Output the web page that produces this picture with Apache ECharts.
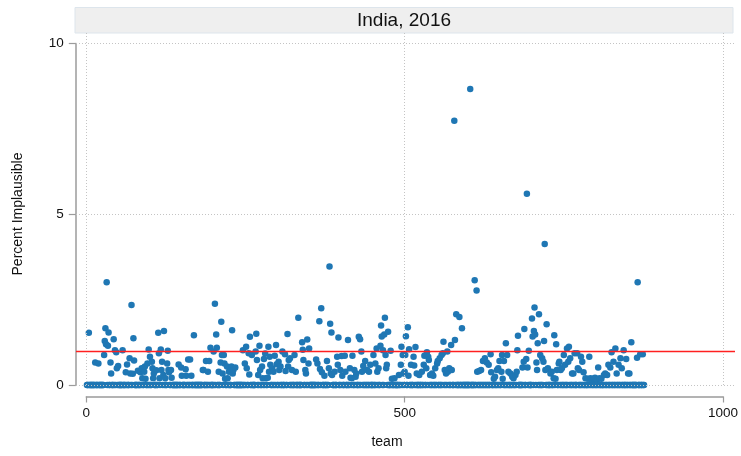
<!DOCTYPE html>
<html>
<head>
<meta charset="utf-8">
<script src="https://cdn.jsdelivr.net/npm/echarts@6/dist/echarts.min.js"></script>
<style>
  html, body { margin: 0; padding: 0; background: #ffffff; }
  #chart { width: 741px; height: 456px; }
</style>
</head>
<body>
<div id="chart"></div>
<script>
// Share of implausible records per team, India 2016 (team = position in list)
const pctImplausible = [
  // teams 1-20
  0,0,0,1.53,0, 0,0,0,0,0, 0,0,0,0.66,0, 0,0,0,0.63,0,
  // 21-40
  0,0,0,0,0, 0,0,0.88,1.29,1.66, 1.19,3.01,0,1.15,1.54, 0,0,0.66,0.34,0,
  // 41-60
  0,0,1.34,0,1.02, 0,0.96,0.49,0,0.56, 0,0,0,0,0, 0,1.02,0,0,0,
  // 61-80
  0,0.37,0,0.60,0, 0,0,0.78,0.34,0, 2.34,0,0.33,1.37,0.72, 0,0,0,0,0,
  // 81-100
  0.42,0,0,0,0.37, 0,0.49,0.20,0,0, 0.39,0.54,0.18,0,0, 0.63,0,1.04,0,0.83,
  // 101-120
  0,0,0.68,0.49,0.20, 0.34,0,0,0,0.43, 0,0,1.53,0.93,0.20, 0,1.04,0.44,0.68,0,
  // 121-140
  0.29,1.58,0,0.20,0, 0,0.63,1.00,0.44,0.37, 0,0,0.44,0.21,0, 0,0,0,0,0,
  // 141-160
  0,0,0,0,0.60, 0,0,0,0.51,0.27, 0,0,0,0,0, 0.46,0.27,0,0,0.75,
  // 161-180
  0,0,0.75,0,0.27, 0,0,0,1.46,0, 0,0,0,0,0, 0,0,0,0,0,
  // 181-200
  0,0,0.44,0.44,0, 0,0,0.70,0,0, 0.39,0,0.70,0,1.09, 0,0,0,0,0.98,
  // 201-220
  0,2.38,0,1.48,1.09, 0,0,0.39,0,0, 0.66,1.85,0.88,0.34,0, 0.88,0.63,0.18,0,0,
  // 221-240
  0.54,0.20,0,0.39,0, 0,0,0.54,1.60,0.34, 0.44,0,0,0.51,0, 0,0,0,0,0,
  // 241-260
  0,0,0,0,0, 1.02,0,0,0.63,0, 1.12,0.49,0,0,0.93, 0.31,1.41,0,0,0.88,
  // 261-280
  0,0,0,0,0, 0.98,1.50,0.73,0,0.29, 0,1.15,0.44,0,0, 0.54,0.20,0,0.76,0,
  // 281-300
  0.92,0.20,0,0,0.21, 1.12,0.39,0.83,0.59,0, 0,0.49,0,0.39,0, 0.86,0,1.17,0.61,0,
  // 301-320
  0,0.68,0.44,0,0.54, 0,0,0.98,0,0, 0,0.90,0.41,0,0, 1.49,0.54,0.73,0,0.78,
  // 321-340
  0,0,0.44,0,0, 0,0.88,0,0.39,0, 0,0,1.97,0,0, 0,0,0,1.25,1.03,
  // 341-360
  0.73,0,0,0.44,0.34, 0,1.33,0,0.63,1.07, 0,0,0,0,0, 0,0,0,0,0,
  // 361-380
  0.75,0,0.63,0,0, 1.87,0.47,0,2.25,0.37, 0,0,0,0.27,0, 0,0,0.70,0,0,
  // 381-400
  0.49,3.47,1.79,0.34,1.54, 0.29,0,0,0,0.39, 0,0,0,0.83,0.59, 1.39,0,0,0.44,0,
  // 401-420
  0.85,0.27,0,0,0, 0.86,0.39,0,0,0, 1.32,0,0,0.49,0.21, 0,0.20,0.86,0,0,
  // 421-440
  0.44,0,0.24,0.34,0, 0,0,1.41,0,1.34, 0,0.98,0.39,0,0.56, 0,0,0.70,0,0,
  // 441-460
  0.44,0,0,0.39,0, 0.59,0,0,0,0, 0.88,0,0,0.63,0, 1.07,0.39,0,0.49,0,
  // 461-480
  0,1.15,1.74,1.42,0, 1.02,0,1.48,1.97,0.88, 0.49,0.59,0,1.56,0, 0,0,1.00,0,0.18,
  // 481-500
  0,0,0,0.20,0, 0,0,0,0,0, 0.29,0,0,0.59,1.12, 0,0.88,0.34,0,0.39,
  // 501-520
  0.88,1.43,0,0,1.69, 0.27,1.05,0,0,0.59, 0,0,0,0.83,0.57, 0,1.11,0,0.34,0,
  // 521-540
  0,0,0.29,0,0, 0,0.39,0,0,0.59, 0.86,0,0,0.49,0.96, 0,0.83,0.73,0,0.29,
  // 541-560
  0,0,0.34,0,0.27, 0,0,0.49,0,0, 0.63,0.70,0,0,0.78, 0,0,0.88,0,0.93,
  // 561-580
  1.27,0,0.44,0,0.34, 0,0.98,0.39,0,0.49, 0,0,1.17,0.44,0, 0,0,7.74,1.32,0,
  // 581-600
  2.07,0,0,0,0, 1.99,0,0,0,1.66, 0,0,0,0,0, 0,0,0,0,0,
  // 601-620
  0,0,8.67,0,0, 0,0,0,0,3.07, 0,0,2.77,0.39,0, 0,0.41,0,0,0.44,
  // 621-640
  0,0,0.70,0,0, 0.78,0,0,0.66,0, 0,0.59,0,0,0.90, 0.37,0,0,0,0.18,
  // 641-660
  0,0.24,0,0,0.44, 0,0.49,0,0.70,0, 0,0.39,0.88,0.18,0, 0.70,0,0,1.22,0,
  // 661-680
  0.88,0,0.39,0,0, 0.34,0,0,0.24,0, 0.20,0,0,0.29,0, 0.39,1.02,1.44,0,0,
  // 681-700
  0,0,0,0,0.51, 0,0.68,1.64,0,0, 0.76,5.60,0.51,0,1.00, 0,0,0,0,1.95,
  // 701-720
  1.42,0,1.58,2.27,1.48, 0,0.66,0.44,1.22,0, 2.07,0,0.88,0,0, 0.78,0,0.68,1.29,4.13,
  // 721-740
  0.44,0,1.78,0,0.49, 0,0,0,0.34,0, 0.39,0,0,0.20,1.46, 0,0.18,1.19,0.44,0,
  // 741-760
  0,0.63,0.68,0,0.44, 0,0.49,0,0,0.88, 0,0.59,0,0,1.07, 0,0.68,1.12,0,0.78,
  // 761-780
  0,0,0.34,0,0.34, 0,0.93,0,0,0, 0.93,0.49,0,0.44,0, 0,0.83,0,0.68,0,
  // 781-800
  0.37,0,0,0.20,0, 0,0,0.18,0,0.83, 0,0.20,0,0.15,0, 0,0.18,0,0.21,0,
  // 801-820
  0,0.15,0,0.51,0, 0.20,0,0,0.18,0, 0,0,0.29,0,0.34, 0,0,0.29,0,0.59,
  // 821-840
  0,0,0.51,0,0.96, 0,0,0.68,0,0, 1.07,0,0.34,0,0, 0.59,0,0,0.78,0,
  // 841-860
  0.49,0,0,1.02,0, 0,0,0.76,0,0, 0.34,0,0.34,0,0, 1.25,0,0,0,0,
  // 861-876
  0,0,0,0,0.80, 3.01,0,0,0,0.90, 0,0,0,0.90,0,0
];
const teams = pctImplausible.map((_, i) => i + 1);

const xTicks = [0, 500, 1000];
const yTicks = [0, 5, 10];
const referenceLevel = 1;
const panelTitle = 'India, 2016';
const xTitle = 'team';
const yTitle = 'Percent Implausible';

const FONT = '"Liberation Sans", Arial, Helvetica, sans-serif';
const AXIS_GRAY = '#9b9b9b';
const GRID_GRAY = '#c4c4c4';

const chart = echarts.init(document.getElementById('chart'), null, { renderer: 'canvas' });

// Plot-region coordinates: the outer grid holds the dotted grid lines and the
// reference line, which run past the labelled 0-1000 / 0-10 range.
const pxPerX = (723 - 86.3) / 1000;
const pxPerY = (385 - 43.5) / 10;
const outerXMin = -(86.3 - 76) / pxPerX;
const outerXMax = 1000 + (735 - 723) / pxPerX;
const outerYMax = (385 - 33) / pxPerY;

const gridLineData = [
  ...yTicks.map(v => ({ yAxis: v })),
  ...xTicks.map(v => ({ xAxis: v }))
];

const option = {
  animation: false,
  backgroundColor: '#ffffff',
  grid: [
    { left: 76, right: 6, top: 33, bottom: 71, containLabel: false },
    { left: 86.3, right: 18, top: 43.5, bottom: 71, containLabel: false }
  ],
  xAxis: [
    { gridIndex: 0, type: 'value', min: outerXMin, max: outerXMax, show: false },
    {
      gridIndex: 1, type: 'value', min: 0, max: 1000, interval: 500,
      offset: 11.5,
      axisLine: { show: true, onZero: false, lineStyle: { color: AXIS_GRAY, width: 1.5 } },
      axisTick: { show: true, length: 6, lineStyle: { color: AXIS_GRAY, width: 1.2 } },
      axisLabel: { show: true, margin: 10, color: '#111', fontSize: 13.5, fontFamily: FONT,
        showMinLabel: true, showMaxLabel: true, formatter: v => String(v) },
      splitLine: { show: false }
    }
  ],
  yAxis: [
    { gridIndex: 0, type: 'value', min: 0, max: outerYMax, show: false },
    {
      gridIndex: 1, type: 'value', min: 0, max: 10, interval: 5,
      offset: 10.5,
      axisLine: { show: true, onZero: false, lineStyle: { color: AXIS_GRAY, width: 1.5 } },
      axisTick: { show: true, length: 7, lineStyle: { color: AXIS_GRAY, width: 1.2 } },
      axisLabel: { show: true, margin: 12, color: '#111', fontSize: 13.5, fontFamily: FONT,
        formatter: v => String(v) },
      splitLine: { show: false }
    }
  ],
  graphic: [
    {
      type: 'rect', z: 0,
      shape: { x: 75, y: 7.5, width: 658, height: 25.5 },
      style: { fill: '#efefef', stroke: '#dde5ec', lineWidth: 1 }
    },
    {
      type: 'text', z: 1, x: 404, y: 20.5,
      style: { text: panelTitle, align: 'center', verticalAlign: 'middle',
        font: '19px ' + FONT, fill: '#111' }
    },
    {
      type: 'text', z: 1, x: 387, y: 442,
      style: { text: xTitle, align: 'center', verticalAlign: 'middle',
        font: '14px ' + FONT, fill: '#111' }
    },
    {
      type: 'text', z: 1, x: 18, y: 214, rotation: Math.PI / 2,
      style: { text: yTitle, align: 'center', verticalAlign: 'middle',
        font: '14px ' + FONT, fill: '#111' }
    }
  ],
  series: [
    {
      // dotted grid lines and the red reference line
      type: 'line', xAxisIndex: 0, yAxisIndex: 0,
      data: [[0, 0]], showSymbol: false, silent: true,
      lineStyle: { opacity: 0 }, z: 1,
      markLine: {
        silent: true, symbol: 'none', animation: false,
        label: { show: false },
        lineStyle: { color: GRID_GRAY, width: 1, type: [1, 2] },
        data: [
          ...gridLineData,
          { yAxis: referenceLevel, lineStyle: { color: '#ff2020', width: 1.4, type: 'solid' } }
        ]
      }
    },
    {
      type: 'scatter', xAxisIndex: 1, yAxisIndex: 1,
      data: teams.map((t, i) => [t, pctImplausible[i]]),
      symbol: 'circle', symbolSize: 6.5, clip: false, silent: true, z: 3,
      itemStyle: { color: '#1f77b4', opacity: 1 }
    }
  ]
};

chart.setOption(option);
</script>
</body>
</html>
